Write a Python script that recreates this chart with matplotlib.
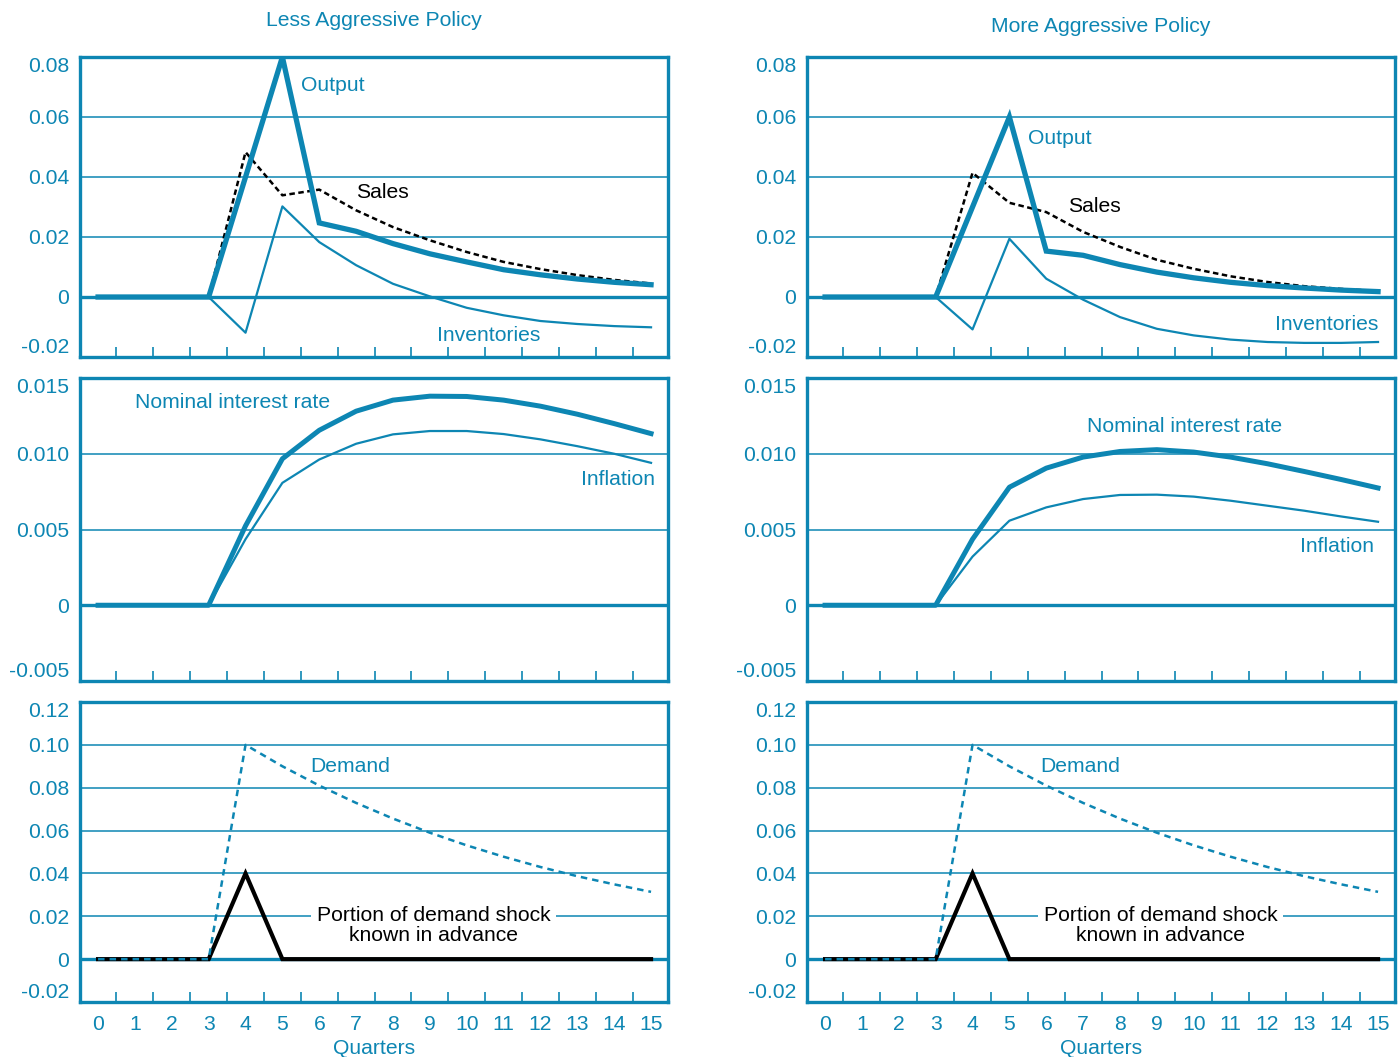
import matplotlib
matplotlib.use('Agg')
import matplotlib.pyplot as plt
import numpy as np

plt.rcParams['font.family'] = ['Liberation Sans', 'DejaVu Sans']

BLUE = '#0d86b3'
FS = 15.2

quarters = np.arange(16)

# less aggressive policy
output_less = [0, 0, 0, 0, 0.040, 0.080, 0.0247, 0.0219, 0.0178, 0.0144, 0.0117, 0.0091, 0.0074, 0.0060, 0.0049, 0.0041]
sales_less = [0, 0, 0, 0, 0.0483, 0.0339, 0.0358, 0.0289, 0.0233, 0.0189, 0.0150, 0.0117, 0.0093, 0.0073, 0.0057, 0.0045]
invent_less = [0, 0, 0, 0, -0.0119, 0.0302, 0.0183, 0.0106, 0.0044, 0.0002, -0.0036, -0.0061, -0.0080, -0.0090, -0.0097, -0.0101]
rate_less = [0, 0, 0, 0, 0.00524, 0.00967, 0.01155, 0.01281, 0.01354, 0.0138, 0.01378, 0.01354, 0.01314, 0.01261, 0.01199, 0.01133]
infl_less = [0, 0, 0, 0, 0.00436, 0.00808, 0.00962, 0.01066, 0.01128, 0.0115, 0.0115, 0.0113, 0.01095, 0.0105, 0.0100, 0.0094]

# more aggressive policy
output_more = [0, 0, 0, 0, 0.030, 0.060, 0.0153, 0.0139, 0.0108, 0.0083, 0.0064, 0.0049, 0.0038, 0.0030, 0.0023, 0.0018]
sales_more = [0, 0, 0, 0, 0.0414, 0.0314, 0.0283, 0.0217, 0.0167, 0.0124, 0.0094, 0.0069, 0.0050, 0.0036, 0.0027, 0.0020]
invent_more = [0, 0, 0, 0, -0.0108, 0.0194, 0.0061, -0.0009, -0.0067, -0.0106, -0.0128, -0.0142, -0.0150, -0.0153, -0.0153, -0.0150]
rate_more = [0, 0, 0, 0, 0.00436, 0.00779, 0.00905, 0.00978, 0.01015, 0.01027, 0.01011, 0.00978, 0.00934, 0.00883, 0.0083, 0.00774]
infl_more = [0, 0, 0, 0, 0.00321, 0.00558, 0.00646, 0.00701, 0.00728, 0.0073, 0.00717, 0.0069, 0.00657, 0.00624, 0.00586, 0.00551]

# shock (same in both columns)
demand = [0, 0, 0, 0, 0.100, 0.090, 0.081, 0.0729, 0.0656, 0.059, 0.0531, 0.0478, 0.043, 0.0387, 0.0349, 0.0314]
known = [0, 0, 0, 0, 0.040, 0, 0, 0, 0, 0, 0, 0, 0, 0, 0, 0]

top_ticks = [0.08, 0.06, 0.04, 0.02, 0, -0.02]
top_labels = ['0.08', '0.06', '0.04', '0.02', '0', '-0.02']
mid_ticks = [0.015, 0.010, 0.005, 0, -0.005]
mid_labels = ['0.015', '0.010', '0.005', '0', '-0.005']
bot_ticks = [0.12, 0.10, 0.08, 0.06, 0.04, 0.02, 0, -0.02]
bot_labels = ['0.12', '0.10', '0.08', '0.06', '0.04', '0.02', '0', '-0.02']

W, H = 1400, 1057
fig = plt.figure(figsize=(14, 10.57), dpi=100)


def make_ax(x0, y0, x1, y1, ticks, labels, lims):
    ax = fig.add_axes([x0 / W, 1 - y1 / H, (x1 - x0) / W, (y1 - y0) / H])
    ax.set_xlim(-0.49, 15.46)
    ax.set_ylim(*lims)
    for s in ax.spines.values():
        s.set_color(BLUE)
        s.set_linewidth(2.4)
    for t in ticks:
        if lims[0] < t < lims[1]:
            ax.axhline(t, color=BLUE, lw=2.4 if t == 0 else 1.1, zorder=1)
    ax.set_yticks(ticks)
    ax.set_yticklabels(labels)
    ax.tick_params(axis='y', length=0, pad=8, labelsize=FS, labelcolor=BLUE)
    yl = ax.get_yticklabels()
    yl[0].set_va('top')
    yl[-1].set_va('bottom')
    ax.set_xticks(np.arange(0.5, 15, 1), minor=True)
    ax.set_xticks(quarters)
    ax.tick_params(axis='x', which='major', length=0, labelbottom=False)
    ax.tick_params(axis='x', which='minor', direction='in', length=7, width=1.2, color=BLUE)
    return ax


cols = [
    (80, 668, 'Less Aggressive Policy', 20, output_less, sales_less, invent_less, rate_less, infl_less),
    (807, 1395, 'More Aggressive Policy', 27, output_more, sales_more, invent_more, rate_more, infl_more),
]

for x0, x1, title, ty, out, sal, inv, rate, infl in cols:
    cx = (x0 + x1) / 2

    # output / sales / inventories
    ax = make_ax(x0, 57, x1, 357, top_ticks, top_labels, (-0.02, 0.08))
    ax.plot(quarters, inv, color=BLUE, lw=1.6, zorder=3)
    ax.plot(quarters, sal, color='black', lw=1.8, dashes=(2.2, 1.4), zorder=3)
    ax.plot(quarters, out, color=BLUE, lw=3.8, zorder=4, solid_joinstyle='miter')

    # interest rate / inflation
    ax2 = make_ax(x0, 378, x1, 681, mid_ticks, mid_labels, (-0.005, 0.015))
    ax2.plot(quarters, infl, color=BLUE, lw=1.6, zorder=3)
    ax2.plot(quarters, rate, color=BLUE, lw=3.6, zorder=4)

    # demand shock
    ax3 = make_ax(x0, 702, x1, 1002, bot_ticks, bot_labels, (-0.02, 0.12))
    ax3.plot(quarters, known, color='black', lw=3.0, zorder=3, solid_joinstyle='miter')
    ax3.plot(quarters, demand, color=BLUE, lw=1.8, dashes=(2.6, 2.0), zorder=4)
    ax3.tick_params(axis='x', which='major', labelbottom=True, labelsize=FS, labelcolor=BLUE, pad=9)
    ax3.set_xlabel('Quarters', color=BLUE, fontsize=FS, labelpad=4)

    fig.text(cx / W, 1 - ty / H, title, color=BLUE, fontsize=FS, ha='center', va='center')

    if x0 < 400:
        ax.text(5.5, 0.0705, 'Output', color=BLUE, fontsize=FS, va='center')
        ax.text(7.0, 0.0348, 'Sales', color='black', fontsize=FS, va='center')
        ax.text(9.2, -0.0127, 'Inventories', color=BLUE, fontsize=FS, va='center')
        ax2.text(1.0, 0.0134, 'Nominal interest rate', color=BLUE, fontsize=FS, va='center')
        ax2.text(15.1, 0.0083, 'Inflation', color=BLUE, fontsize=FS, va='center', ha='right')
        ax3.text(5.75, 0.0898, 'Demand', color=BLUE, fontsize=FS, va='center')
    else:
        ax.text(5.5, 0.0529, 'Output', color=BLUE, fontsize=FS, va='center')
        ax.text(6.6, 0.0301, 'Sales', color='black', fontsize=FS, va='center')
        ax.text(15.0, -0.0093, 'Inventories', color=BLUE, fontsize=FS, va='center', ha='right')
        ax2.text(9.75, 0.0118, 'Nominal interest rate', color=BLUE, fontsize=FS, va='center', ha='center')
        ax2.text(14.9, 0.0039, 'Inflation', color=BLUE, fontsize=FS, va='center', ha='right')
        ax3.text(5.85, 0.0898, 'Demand', color=BLUE, fontsize=FS, va='center')

    ax3.text(9.1, 0.0158, 'Portion of demand shock\nknown in advance', color='black',
             fontsize=FS, ha='center', va='center', linespacing=1.05, zorder=5,
             bbox=dict(facecolor='white', edgecolor='none', pad=4))

fig.savefig('out.png', dpi=100)
